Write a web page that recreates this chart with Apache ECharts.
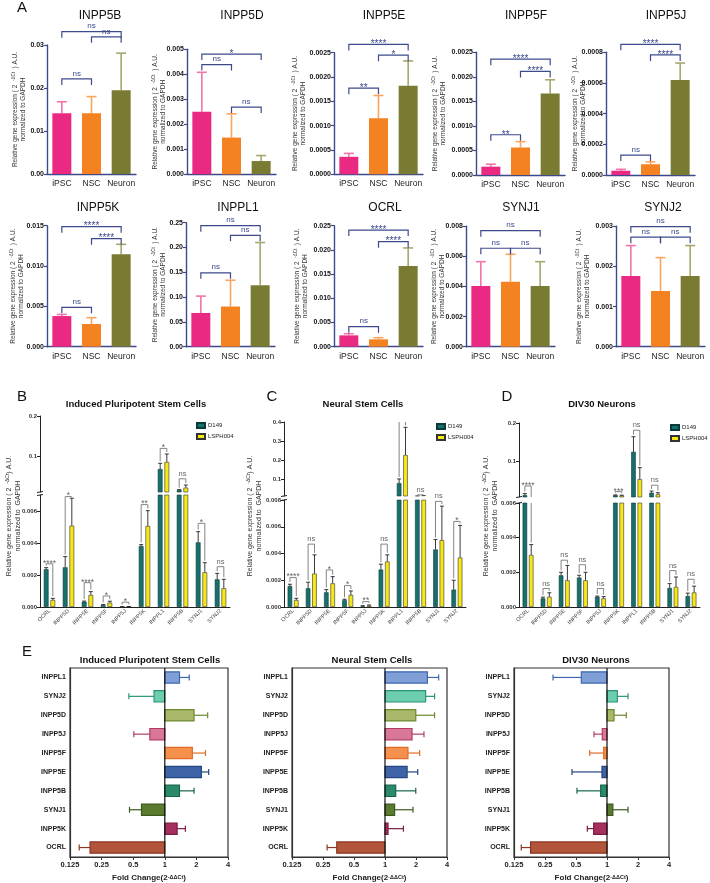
<!DOCTYPE html>
<html>
<head>
<meta charset="UTF-8">
<title>INPP5 phosphatases expression</title>
<script src="https://cdn.jsdelivr.net/npm/echarts@6.0.0/dist/echarts.min.js"></script>
<style>
html,body{margin:0;padding:0;background:#fff;}
#main{width:710px;height:883px;}
</style>
</head>
<body>
<div id="main"></div>
<script>
var FONT = 'Liberation Sans, Arial, sans-serif';
var NAVY = '#3c4a8c';

// ---------- panel A : expression per stage ----------
var stages = ['iPSC', 'NSC', 'Neuron'];
var aGenes = ['INPP5B', 'INPP5D', 'INPP5E', 'INPP5F', 'INPP5J', 'INPP5K', 'INPPL1', 'OCRL', 'SYNJ1', 'SYNJ2'];
var aMean = [
  [0.0141, 0.0141, 0.0195],
  [0.0025, 0.00147, 0.00053],
  [0.00036, 0.00115, 0.00182],
  [0.00017, 0.00056, 0.00166],
  [0.000028, 0.00007, 0.00062],
  [0.0038, 0.00281, 0.01145],
  [0.068, 0.081, 0.124],
  [0.00234, 0.00152, 0.01667],
  [0.00403, 0.00432, 0.00403],
  [0.00176, 0.00139, 0.00176]
];
var aErr = [
  [0.0168, 0.0180, 0.0281],
  [0.00408, 0.00242, 0.00075],
  [0.00043, 0.00162, 0.00233],
  [0.00022, 0.00068, 0.00194],
  [0.000037, 0.000086, 0.00073],
  [0.0040, 0.0036, 0.01269],
  [0.102, 0.134, 0.210],
  [0.00269, 0.00186, 0.0204],
  [0.00565, 0.00614, 0.00565],
  [0.00252, 0.00222, 0.00252]
];
var aMax = [0.03, 0.005, 0.0025, 0.0025, 0.0008, 0.015, 0.25, 0.025, 0.008, 0.003];
var aStep = [0.01, 0.001, 0.0005, 0.0005, 0.0002, 0.005, 0.05, 0.005, 0.002, 0.001];
var aDigits = [2, 3, 4, 4, 4, 3, 2, 3, 3, 3];
// [from stage, to stage, bracket height, label]
var aSig = [
  [[0, 1, 0.0221, 'ns'], [1, 2, 0.0319, 'ns'], [0, 2, 0.0331, 'ns']],
  [[0, 1, 0.00439, 'ns'], [1, 2, 0.00269, 'ns'], [0, 2, 0.00481, '*']],
  [[0, 1, 0.00177, '**'], [1, 2, 0.00245, '*'], [0, 2, 0.00267, '****']],
  [[0, 1, 0.00082, '**'], [1, 2, 0.00211, '****'], [0, 2, 0.00236, '****']],
  [[0, 1, 0.00013, 'ns'], [1, 2, 0.000783, '****'], [0, 2, 0.000852, '****']],
  [[0, 1, 0.00488, 'ns'], [1, 2, 0.01339, '****'], [0, 2, 0.01488, '****']],
  [[0, 1, 0.149, 'ns'], [1, 2, 0.2245, 'ns'], [0, 2, 0.244, 'ns']],
  [[0, 1, 0.00413, 'ns'], [1, 2, 0.0217, '****'], [0, 2, 0.0241, '****']],
  [[0, 1, 0.00654, 'ns'], [1, 2, 0.00654, 'ns'], [0, 2, 0.00771, 'ns']],
  [[0, 1, 0.00273, 'ns'], [1, 2, 0.00273, 'ns'], [0, 2, 0.00299, 'ns']]
];

// ---------- panels B-D : D149 vs LSPH004 ----------
var stageTitles = ['Induced Pluripotent Stem Cells', 'Neural Stem Cells', 'DIV30 Neurons'];
var lineNames = ['D149', 'LSPH004'];
var bcdGenes = ['OCRL', 'INPP5D', 'INPP5E', 'INPP5F', 'INPP5J', 'INPP5K', 'INPPL1', 'INPP5B', 'SYNJ1', 'SYNJ2'];

var ipscD149 = [0.00236, 0.00248, 0.00033, 0.00013, 0.00001, 0.00381, 0.0675, 0.015, 0.00404, 0.00173];
var ipscD149Err = [0.00246, 0.00315, 0.00037, 0.00016, 0.00002, 0.0039, 0.0817, 0.016, 0.00471, 0.0021];
var ipscLsph = [0.00044, 0.00508, 0.00075, 0.00027, 0.00002, 0.00506, 0.085, 0.021, 0.00217, 0.00117];
var ipscLsphErr = [0.00054, 0.0068, 0.00096, 0.00036, 0.00003, 0.00602, 0.105, 0.0275, 0.00277, 0.00173];
var ipscSig = ['****', '*', '****', '*', '*', '**', '*', 'ns', '*', 'ns'];
var ipscSigY = [0.0027, 0.0069, 0.00152, 0.00069, 0.0003, 0.0064, 0.119, 0.043, 0.00523, 0.00252];
var ipscUpperTicks = [0.1, 0.2];
var ipscLowerTicks = [0, 0.002, 0.004, 0.006];

var nscD149 = [0.00157, 0.0014, 0.0011, 0.00052, 0.00005, 0.0028, 0.078, 0.0095, 0.0043, 0.0013];
var nscD149Err = [0.0017, 0.00185, 0.0013, 0.00058, 0.0001, 0.0032, 0.1, 0.0105, 0.00505, 0.002];
var nscLsph = [0.00052, 0.0025, 0.00177, 0.0009, 0.0001, 0.0034, 0.226, 0.0095, 0.005, 0.0037];
var nscLsphErr = [0.00065, 0.0039, 0.00227, 0.0012, 0.00015, 0.0039, 0.372, 0.012, 0.00754, 0.0061];
var nscSig = ['****', 'ns', '*', '*', '**', 'ns', '*', 'ns', 'ns', '*'];
var nscSigY = [0.0022, 0.0047, 0.00277, 0.0016, 0.0004, 0.0047, 0.405, 0.016, 0.0079, 0.0064];
var nscUpperTicks = [0.1, 0.2, 0.3, 0.4];
var nscLowerTicks = [0, 0.002, 0.004, 0.006, 0.008];

var neuD149 = [0.011, 0.0005, 0.00183, 0.0017, 0.00059, 0.0105, 0.1245, 0.0172, 0.0011, 0.00063];
var neuD149Err = [0.015, 0.00057, 0.002, 0.00183, 0.00063, 0.0115, 0.164, 0.0216, 0.00135, 0.0008];
var neuLsph = [0.003, 0.00059, 0.00154, 0.00154, 0.0005, 0.0098, 0.0526, 0.013, 0.00116, 0.00084];
var neuLsphErr = [0.0036, 0.00082, 0.0024, 0.002, 0.0006, 0.0108, 0.083, 0.0172, 0.00173, 0.0012];
var neuSig = ['****', 'ns', 'ns', 'ns', 'ns', '***', 'ns', 'ns', 'ns', 'ns'];
var neuSigY = [0.035, 0.00107, 0.0027, 0.00244, 0.00107, 0.02, 0.181, 0.037, 0.0021, 0.0016];
var neuUpperTicks = [0.1, 0.2];
var neuLowerTicks = [0, 0.002, 0.004, 0.006];

// ---------- panel E : fold change LSPH004 / D149 ----------
var eGenes = ['INPPL1', 'SYNJ2', 'INPP5D', 'INPP5J', 'INPP5F', 'INPP5E', 'INPP5B', 'SYNJ1', 'INPP5K', 'OCRL'];
var ipscFold = [1.38, 0.79, 1.90, 0.72, 1.83, 2.23, 1.38, 0.60, 1.31, 0.194];
var ipscFoldErr = [1.71, 0.455, 2.56, 0.507, 2.44, 2.62, 1.90, 0.461, 1.57, 0.153];
var nscFold = [2.58, 2.48, 1.99, 1.83, 1.67, 1.64, 1.27, 1.24, 1.07, 0.34];
var nscFoldErr = [3.32, 3.03, 3.03, 2.39, 2.17, 2.08, 1.99, 1.87, 1.51, 0.274];
var neuFold = [0.563, 1.26, 1.17, 0.90, 0.928, 0.894, 0.868, 1.14, 0.742, 0.181];
var neuFoldErr = [0.299, 1.60, 1.54, 0.748, 0.679, 0.457, 0.511, 1.60, 0.644, 0.147];

// colours
var aColors = ['#ea2a82', '#f58220', '#7a7b33'];
var aErrColors = ['#f274aa', '#f9a55e', '#a6a76c'];
var eFill = ['#7f9fd6', '#6dcdb0', '#a9b86a', '#d97799', '#f5914d', '#3e63a6', '#2a8a6b', '#5b7b31', '#a5305f', '#b2553a'];
var eStroke = ['#3d67b1', '#2b9475', '#6c8a2e', '#b23c68', '#e06c2a', '#254682', '#16654c', '#3c5a1c', '#7c1b45', '#8b3621'];

var chart = echarts.init(document.getElementById('main'));

var grids = [], xAxes = [], yAxes = [], series = [], graphics = [];
function addGrid(box, xa, ya) {
  grids.push({left: box[0], top: box[1], width: box[2], height: box[3], outerBoundsMode: 'none', containLabel: false});
  var g = grids.length - 1;
  xa.gridIndex = g; ya.gridIndex = g;
  xAxes.push(xa); yAxes.push(ya);
  return g;
}
function fmt(d) { return function (v) { return Number(v).toFixed(d); }; }
function txt(x, y, s, font, color) {
  return {type: 'text', x: x, y: y, silent: true,
    style: {text: s, font: font, fill: color || '#111', textAlign: 'center', textVerticalAlign: 'middle'}};
}

var richName = {
  t: {fontSize: 6.5, fontFamily: FONT, color: '#333', lineHeight: 8},
  s: {fontSize: 4.5, fontFamily: FONT, color: '#333', verticalAlign: 'top', lineHeight: 8}
};
var yNameA = '{t|Relative gene expression ( 2  }{s|-ΔCt}{t|  ) A.U.}\n{t|normalized to GAPDH}';

// ---- panel A layout ----
var aBox = [[47, 45, 89, 129], [187, 49.3, 89, 125], [334, 52.7, 89, 121.6], [476, 52.3, 89, 122.7], [606, 52.3, 89, 122.7],
            [47, 225.7, 89, 121], [186, 222.7, 89, 124], [334, 225.7, 89, 121], [466, 226.3, 89, 120.4], [616, 226.3, 89, 120.4]];
var aNameGap = [20, 20, 27, 29, 19, 22, 19, 25, 20, 25];
var aTitleX = [100, 242, 384, 526, 666, 98, 238, 385, 521, 663];

aGenes.forEach(function (gene, k) {
  var g = addGrid(aBox[k], {
    type: 'category', data: stages,
    axisLine: {lineStyle: {color: NAVY, width: 1.4}},
    axisTick: {alignWithLabel: true, length: 3, lineStyle: {color: NAVY, width: 1.2}},
    axisLabel: {fontSize: 8.5, color: '#222', margin: 5, interval: 0, fontFamily: FONT}
  }, {
    type: 'value', min: 0, max: aMax[k], interval: aStep[k],
    axisLine: {show: true, lineStyle: {color: NAVY, width: 1.4}},
    axisTick: {show: true, length: 3, lineStyle: {color: NAVY, width: 1.2}},
    splitLine: {show: false},
    axisLabel: {fontSize: 7, fontWeight: 'bold', color: '#111', margin: 3, fontFamily: FONT, formatter: fmt(aDigits[k])},
    name: yNameA, nameLocation: 'middle', nameGap: aNameGap[k], nameRotate: 90, nameMoveOverlap: false,
    nameTextStyle: {rich: richName}
  });
  series.push({
    type: 'bar', xAxisIndex: g, yAxisIndex: g, barWidth: '64%', z: 3, silent: true,
    data: aMean[k].map(function (v, i) { return {value: v, itemStyle: {color: aColors[i]}}; })
  });
  series.push({
    type: 'custom', xAxisIndex: g, yAxisIndex: g, z: 2, silent: true, clip: false,
    encode: {x: 0, y: [1, 2]},
    data: aMean[k].map(function (v, i) { return [i, v, aErr[k][i]]; }),
    renderItem: function (params, api) {
      var p0 = api.coord([api.value(0), api.value(1)]);
      var p1 = api.coord([api.value(0), api.value(2)]);
      var c = aErrColors[params.dataIndex];
      return {type: 'group', children: [
        {type: 'line', shape: {x1: p0[0], y1: p0[1], x2: p1[0], y2: p1[1]}, style: {stroke: c, lineWidth: 1.6}},
        {type: 'line', shape: {x1: p1[0] - 5, y1: p1[1], x2: p1[0] + 5, y2: p1[1]}, style: {stroke: c, lineWidth: 1.6}}
      ]};
    }
  });
  series.push({
    type: 'custom', xAxisIndex: g, yAxisIndex: g, z: 4, silent: true, clip: false,
    encode: {x: [0, 1], y: 2},
    data: aSig[k].map(function (b) { return [b[0], b[1], b[2]]; }),
    renderItem: function (params, api) {
      var b = aSig[k][params.dataIndex];
      var a = api.coord([b[0], b[2]]), c = api.coord([b[1], b[2]]);
      var star = b[3].indexOf('*') >= 0;
      return {type: 'group', children: [
        {type: 'polyline', shape: {points: [[a[0], a[1] + 6], [a[0], a[1]], [c[0], c[1]], [c[0], c[1] + 6]]},
          style: {stroke: NAVY, lineWidth: 1.2, fill: null}},
        {type: 'text', x: (a[0] + c[0]) / 2, y: star ? a[1] + 5 : a[1] - 1.5,
          style: {text: b[3], textAlign: 'center', textVerticalAlign: 'bottom', fill: NAVY,
            font: (star ? '10px ' : '8px ') + FONT}}
      ]};
    }
  });
  graphics.push(txt(aTitleX[k], k < 5 ? 16 : 208, gene, '12px ' + FONT, '#111'));
});

// ---- panels B-D ----
var bcdPanels = [
  {d1: ipscD149, e1: ipscD149Err, d2: ipscLsph, e2: ipscLsphErr, sig: ipscSig, sigY: ipscSigY, upT: ipscUpperTicks, loT: ipscLowerTicks,
   left: 40, width: 190, upTop: 416, upH: 76, loTop: 495, loH: 112, upMin: 0.01, upMax: 0.2, loMax: 0.007,
   legX: 191, legY: 417, titleX: 136, nameX: 14, letterX: 22, letter: 'B'},
  {d1: nscD149, e1: nscD149Err, d2: nscLsph, e2: nscLsphErr, sig: nscSig, sigY: nscSigY, upT: nscUpperTicks, loT: nscLowerTicks,
   left: 284, width: 182, upTop: 422, upH: 74, loTop: 500, loH: 107, upMin: 0.01, upMax: 0.4, loMax: 0.008,
   legX: 431, legY: 418, titleX: 363, nameX: 255, letterX: 272, letter: 'C'},
  {d1: neuD149, e1: neuD149Err, d2: neuLsph, e2: neuLsphErr, sig: neuSig, sigY: neuSigY, upT: neuUpperTicks, loT: neuLowerTicks,
   left: 519, width: 181, upTop: 423, upH: 74, loTop: 503, loH: 104, upMin: 0.006, upMax: 0.2, loMax: 0.006,
   legX: 665, legY: 419, titleX: 602, nameX: 491, letterX: 507, letter: 'D'}
];

function bcdErrSeries(g, p, vmin, vmax) {
  return {
    type: 'custom', xAxisIndex: g, yAxisIndex: g, z: 3, silent: true, clip: false,
    encode: {x: 0, y: 1},
    data: p.d1.map(function (v, i) { return [i, v]; }),
    renderItem: function (params, api) {
      var i = params.dataIndex;
      var band = api.size([1, 0])[0];
      var cx = api.coord([i, vmin])[0];
      var kids = [];
      [[p.d1[i], p.e1[i], -0.175], [p.d2[i], p.e2[i], 0.175]].forEach(function (b) {
        var x = cx + b[2] * band;
        var lo = Math.max(b[0], vmin), hi = Math.min(b[1], vmax);
        if (hi > lo) {
          var y0 = api.coord([i, lo])[1], y1 = api.coord([i, hi])[1];
          kids.push({type: 'line', shape: {x1: x, y1: y0, x2: x, y2: y1}, style: {stroke: '#222', lineWidth: 0.9}});
        }
        if (b[1] >= vmin && b[1] <= vmax) {
          var yc = api.coord([i, b[1]])[1];
          kids.push({type: 'line', shape: {x1: x - 2, y1: yc, x2: x + 2, y2: yc}, style: {stroke: '#222', lineWidth: 0.9}});
        }
      });
      return {type: 'group', children: kids};
    }
  };
}
function bcdSigSeries(g, p, vmin, vmax) {
  return {
    type: 'custom', xAxisIndex: g, yAxisIndex: g, z: 5, silent: true, clip: false,
    encode: {x: 0, y: 1},
    data: p.sigY.map(function (v, i) { return [i, v]; }),
    renderItem: function (params, api) {
      var i = params.dataIndex;
      var band = api.size([1, 0])[0];
      var cx = api.coord([i, vmin])[0];
      var xl = cx - 0.175 * band, xr = cx + 0.175 * band;
      function py(v) { return api.coord([i, Math.min(Math.max(v, vmin), vmax)])[1]; }
      var yl = py(p.sigY[i]);
      var kids = [];
      [[xl, p.e1[i]], [xr, p.e2[i]]].forEach(function (a) {
        var yb = py(a[1]);
        if (a[1] >= vmin && a[1] <= vmax) yb -= 2;
        if (yb - yl > 0.5) kids.push({type: 'line', shape: {x1: a[0], y1: yl, x2: a[0], y2: yb}, style: {stroke: '#777', lineWidth: 0.9}});
      });
      if (p.sigY[i] >= vmin && p.sigY[i] <= vmax) {
        var star = p.sig[i].indexOf('*') >= 0;
        kids.push({type: 'line', shape: {x1: xl, y1: yl, x2: xr, y2: yl}, style: {stroke: '#777', lineWidth: 0.9}});
        kids.push({type: 'text', x: cx, y: star ? yl + 4 : yl - 1,
          style: {text: p.sig[i], textAlign: 'center', textVerticalAlign: 'bottom', fill: '#666', font: (star ? '8.5px ' : '7.5px ') + FONT}});
      }
      return {type: 'group', children: kids};
    }
  };
}

var legends = [];
bcdPanels.forEach(function (p, n) {
  var yCommon = {
    type: 'value',
    axisLine: {show: true, lineStyle: {color: '#222', width: 1}},
    splitLine: {show: false}
  };
  var gu = addGrid([p.left, p.upTop, p.width, p.upH],
    {type: 'category', data: bcdGenes, show: false},
    echarts.util.merge({min: p.upMin, max: p.upMax,
      axisTick: {show: true, length: 3, customValues: p.upT, lineStyle: {color: '#222'}},
      axisLabel: {fontSize: 6, fontWeight: 'bold', color: '#333', margin: 3, fontFamily: FONT, customValues: p.upT, formatter: fmt(1)}
    }, yCommon, true));
  var gl = addGrid([p.left, p.loTop, p.width, p.loH],
    {type: 'category', data: bcdGenes,
      axisLine: {lineStyle: {color: '#222', width: 1}},
      axisTick: {show: false},
      axisLabel: {rotate: 45, fontSize: 5.5, color: '#444', margin: 3, interval: 0, fontFamily: FONT}},
    echarts.util.merge({min: 0, max: p.loMax,
      axisTick: {show: true, length: 3, customValues: p.loT, lineStyle: {color: '#222'}},
      axisLabel: {fontSize: 6, fontWeight: 'bold', color: '#333', margin: 3, fontFamily: FONT, customValues: p.loT, formatter: fmt(3)}
    }, yCommon, true));
  [[gu, p.upMin, p.upMax], [gl, 0, p.loMax]].forEach(function (s) {
    series.push({type: 'bar', name: lineNames[0], xAxisIndex: s[0], yAxisIndex: s[0], data: p.d1, barWidth: '25%', barGap: '40%',
      clip: true, silent: true, z: 2, itemStyle: {color: '#17706b', borderColor: '#0b3b38', borderWidth: 0.6}});
    series.push({type: 'bar', name: lineNames[1], xAxisIndex: s[0], yAxisIndex: s[0], data: p.d2, barWidth: '25%', barGap: '40%',
      clip: true, silent: true, z: 2, itemStyle: {color: '#f6e815', borderColor: '#333', borderWidth: 0.6}});
    series.push(bcdErrSeries(s[0], p, s[1], s[2]));
    series.push(bcdSigSeries(s[0], p, s[1], s[2]));
  });
  legends.push({left: p.legX, top: p.legY, orient: 'vertical', itemWidth: 8, itemHeight: 5, itemGap: 4,
    icon: 'rect', selectedMode: false, data: lineNames,
    textStyle: {fontSize: 6, color: '#222', fontFamily: FONT, padding: [0, 0, 0, -2]}});
  graphics.push(txt(p.titleX, 404, stageTitles[n], 'bold 9.5px ' + FONT, '#111'));
  graphics.push({type: 'text', x: p.nameX, y: 516, rotation: Math.PI / 2, silent: true,
    style: {text: '{t|Relative gene expression ( 2  }{s|-ΔCt}{t|) A.U.}\n{t|normalized to  GAPDH}', rich: {
      t: {fontSize: 7, fontFamily: FONT, fill: '#333', lineHeight: 9},
      s: {fontSize: 5, fontFamily: FONT, fill: '#333', verticalAlign: 'top', lineHeight: 9}},
      textAlign: 'center', textVerticalAlign: 'middle'}});
  graphics.push({type: 'text', x: p.letterX, y: 397, silent: true,
    style: {text: p.letter, font: '15px ' + FONT, fill: '#111', textAlign: 'center', textVerticalAlign: 'middle'}});
  // axis break mark between the two segments
  var yb = p.upTop + p.upH, yt = p.loTop;
  graphics.push({type: 'line', silent: true, shape: {x1: p.left - 3, y1: yb + 0.5, x2: p.left + 3, y2: yb - 0.5},
    style: {stroke: '#222', lineWidth: 1}});
  graphics.push({type: 'line', silent: true, shape: {x1: p.left - 3, y1: yt + 0.5, x2: p.left + 3, y2: yt - 0.5},
    style: {stroke: '#222', lineWidth: 1}});
});

// ---- panel E ----
var ePanels = [
  {v: ipscFold, e: ipscFoldErr, box: [70, 668, 158, 189], titleX: 150},
  {v: nscFold, e: nscFoldErr, box: [292, 668, 155, 189], titleX: 372},
  {v: neuFold, e: neuFoldErr, box: [514, 668, 155, 189], titleX: 596}
];
ePanels.forEach(function (p, n) {
  var g = addGrid(p.box, {
    type: 'log', logBase: 2, min: 0.125, max: 4,
    axisLine: {show: true, lineStyle: {color: '#333', width: 1.2}},
    axisTick: {show: true, length: 3, lineStyle: {color: '#333'}},
    splitLine: {show: false},
    axisLabel: {fontSize: 7.5, fontWeight: 'bold', color: '#222', margin: 4, fontFamily: FONT,
      formatter: function (v) { return String(parseFloat(Number(v).toPrecision(3))); }},
    name: '{t|Fold Change(2}{s|-ΔΔCt}{t|)}', nameLocation: 'middle', nameGap: 17, nameMoveOverlap: false,
    nameTextStyle: {rich: {t: {fontSize: 8, fontWeight: 'bold', fontFamily: FONT, color: '#222'},
      s: {fontSize: 5.5, fontWeight: 'bold', fontFamily: FONT, color: '#222', verticalAlign: 'top'}}}
  }, {
    type: 'category', data: eGenes, inverse: true,
    axisLine: {show: true, lineStyle: {color: '#333', width: 1.2}},
    axisTick: {show: false},
    axisLabel: {fontSize: 7, fontWeight: 'bold', color: '#222', margin: 4, fontFamily: FONT}
  });
  grids[g].show = true;
  grids[g].borderColor = '#333';
  grids[g].borderWidth = 1.2;
  series.push({
    type: 'custom', xAxisIndex: g, yAxisIndex: g, z: 3, silent: true, clip: false,
    encode: {x: [0, 1], y: 2},
    data: p.v.map(function (v, i) { return [v, p.e[i], i]; }),
    renderItem: function (params, api) {
      var i = params.dataIndex;
      var yi = api.value(2);
      var base = api.coord([1, yi]), pv = api.coord([api.value(0), yi]), pe = api.coord([api.value(1), yi]);
      var h = api.size([0, 1], [1, yi])[1] * 0.6;
      var kids = [
        {type: 'line', shape: {x1: pv[0], y1: pv[1], x2: pe[0], y2: pe[1]}, style: {stroke: eStroke[i], lineWidth: 1.2}},
        {type: 'line', shape: {x1: pe[0], y1: pe[1] - 3, x2: pe[0], y2: pe[1] + 3}, style: {stroke: eStroke[i], lineWidth: 1.2}},
        {type: 'rect', shape: {x: Math.min(base[0], pv[0]), y: base[1] - h / 2, width: Math.abs(pv[0] - base[0]), height: h},
          style: {fill: eFill[i], stroke: eStroke[i], lineWidth: 1.2}}
      ];
      if (i === 0) {
        var cs = params.coordSys;
        kids.push({type: 'line', shape: {x1: base[0], y1: cs.y, x2: base[0], y2: cs.y + cs.height},
          style: {stroke: '#111', lineWidth: 1.2}, z2: 10});
      }
      return {type: 'group', children: kids};
    }
  });
  graphics.push(txt(p.titleX, 660, stageTitles[n], 'bold 9.5px ' + FONT, '#111'));
});

graphics.push(txt(22, 8, 'A', '15px ' + FONT, '#111'));
graphics.push(txt(27, 652, 'E', '15px ' + FONT, '#111'));

chart.setOption({
  backgroundColor: '#fff',
  animation: false,
  textStyle: {fontFamily: FONT},
  grid: grids,
  xAxis: xAxes,
  yAxis: yAxes,
  legend: legends,
  series: series,
  graphic: graphics
});
</script>
</body>
</html>
